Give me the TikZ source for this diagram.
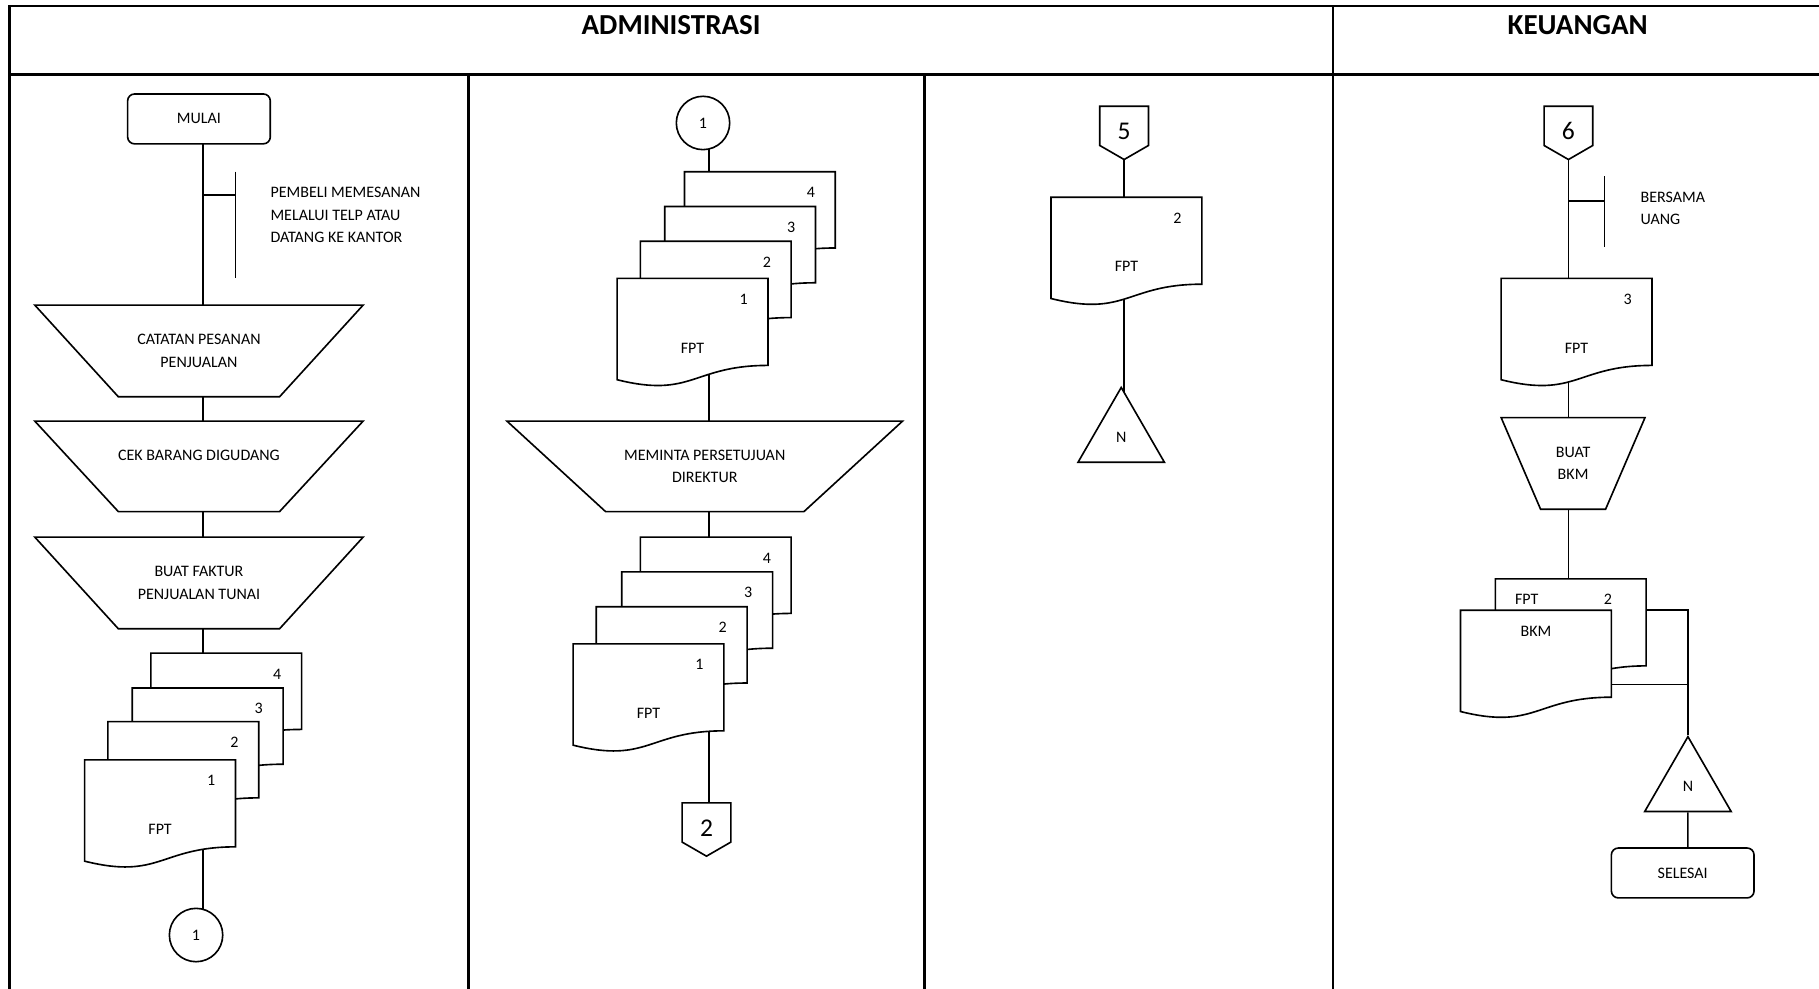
\documentclass[tikz,border=0pt]{standalone}
\usepackage{fontspec}
\setmainfont{Carlito}
\usetikzlibrary{shapes.geometric,shapes.symbols,calc,backgrounds}

\newcommand{\dokumen}[3]{%
  \draw[garis,fill=white] (#1.north west) -- (#1.north east)
    -- ($(#1.north east)!0.802!(#1.south east)$)
    .. controls ($(#1.north)!0.802!(#1.south)$) and ($(#1.north)!1.1075!(#1.south)$)
    .. ($(#1.north west)!0.934!(#1.south west)$) -- cycle;
  \node (#1-no) at ([shift={(-21,18)}]#1.north east) {#2};
  \node (#1-isi) at ([yshift=-60pt]#1.north) {#3};}

\newcommand{\proses}[7]{%
  \draw[garis,fill=white] ({#2-#4/2},{#3-#6/2}) -- ({#2+#4/2},{#3-#6/2})
    -- ({#2+#5/2},{#3+#6/2}) -- ({#2-#5/2},{#3+#6/2}) -- cycle;
  \node[align=center] (#1) at (#2,#3) {#7};}

\begin{document}
\begin{tikzpicture}[x=1pt,y=-1pt,
  font=\fontsize{13.8}{19.5}\selectfont,
  garis/.style={line width=1.4pt},
  bingkai/.style={line width=2.2pt},
  judul/.style={font=\fontsize{25}{30}\selectfont\bfseries},
  terminal/.style={garis,draw,fill=white,rounded corners=6pt,minimum width=123pt,minimum height=43pt},
  dok/.style={minimum width=130pt,minimum height=93.5pt,inner sep=0pt,outer sep=0pt,anchor=north west},
  dokb/.style={dok,minimum height=82pt},
  sambung/.style={garis,draw,fill=white,circle,minimum size=46pt,inner sep=0pt},
  halaman/.style={garis,draw,fill=white,signal,signal to=south,signal pointer angle=120,minimum width=42pt,minimum height=37pt,inner sep=0pt,text height=24pt,text depth=0pt,font=\fontsize{22}{26}\selectfont},
  arsip/.style={garis,draw,fill=white,regular polygon,regular polygon sides=3,minimum size=86pt,inner sep=0pt},
  ket/.style={anchor=west,align=left,inner sep=0pt}]

\useasboundingbox (0,0) rectangle (1568,852);

\draw[bingkai] (1580,5) -- (8,5) -- (8,860);
\draw[bingkai] (8,64) -- (1580,64);
\draw[bingkai] (404,64) -- (404,860);
\draw[bingkai] (797,64) -- (797,860);
\draw[bingkai] (1149,5) -- (1149,860);
\draw (578.5,22) node[judul] (adm) {ADMINISTRASI};
\draw (1360,22) node[judul] (keu) {KEUANGAN};

\coordinate (jalurA) at (175,0);
\coordinate (jalurB) at (611,0);
\coordinate (jalurC) at (969,0);
\coordinate (jalurD) at (1352,0);

\draw (171.5,102.5) node[terminal] (mulai) {MULAI};
\coordinate (ketA0) at (203,168);
\coordinate (ketA1) at (203,148);
\coordinate (ketA2) at (203,240);
\draw[garis] (ketA1) -- (ketA2);
\draw[garis] (ketA0 -| jalurA) -- (ketA0);
\draw (233,185.5) node[ket] (ketA) {PEMBELI MEMESANAN\\MELALUI TELP ATAU\\DATANG KE KANTOR};
\proses{catatan}{171.5}{302.5}{283}{139}{79}{CATATAN PESANAN\\PENJUALAN}
\proses{cek}{171.5}{402}{283}{139}{78}{CEK BARANG DIGUDANG\\~}
\proses{faktur}{171.5}{502.5}{283}{139}{79}{BUAT FAKTUR\\PENJUALAN TUNAI}
\draw (130,563) node[dokb] (fptA4) {}; \dokumen{fptA4}{4}{}
\draw (114,593) node[dokb] (fptA3) {}; \dokumen{fptA3}{3}{}
\draw (93,622) node[dokb] (fptA2) {}; \dokumen{fptA2}{2}{}
\draw (73,655) node[dok] (fptA1) {}; \dokumen{fptA1}{1}{FPT}
\draw (169,806) node[sambung] (satuA) {1};

\draw (606,106) node[sambung] (satuB) {1};
\draw (590,148) node[dokb] (fptB4) {}; \dokumen{fptB4}{4}{}
\draw (573,178) node[dokb] (fptB3) {}; \dokumen{fptB3}{3}{}
\draw (552,208) node[dokb] (fptB2) {}; \dokumen{fptB2}{2}{}
\draw (532,240) node[dok] (fptB1) {}; \dokumen{fptB1}{1}{FPT}
\proses{meminta}{607.5}{402}{341}{171}{78}{MEMINTA PERSETUJUAN\\DIREKTUR}
\draw (552,463) node[dokb] (fptC4) {}; \dokumen{fptC4}{4}{}
\draw (536,493) node[dokb] (fptC3) {}; \dokumen{fptC3}{3}{}
\draw (514,523) node[dokb] (fptC2) {}; \dokumen{fptC2}{2}{}
\draw (494,555) node[dok] (fptC1) {}; \dokumen{fptC1}{1}{FPT}
\draw (609,709) node[halaman] (duaB) {2};

\draw (969,108.5) node[halaman] (limaC) {5};
\draw (906,170) node[dok] (fptD) {}; \dokumen{fptD}{2}{FPT}
\draw (966.5,377) node[arsip] (arsipD) {N};

\draw (1352,108.5) node[halaman] (enamE) {6};
\coordinate (ketE0) at (1383,173);
\coordinate (ketE1) at (1383,152);
\coordinate (ketE2) at (1383,213);
\draw[garis] (ketE1) -- (ketE2);
\draw[garis] (ketE0 -| jalurD) -- (ketE0);
\draw (1414,179.5) node[ket] (ketE) {BERSAMA\\UANG};
\draw (1294,240) node[dok] (fptE) {}; \dokumen{fptE}{3}{FPT}
\proses{buatbkm}{1356}{399.5}{124}{56}{79}{BUAT\\BKM}
\draw (1289,499) node[dok] (fptF) {}; \dokumen{fptF}{}{}
\draw (1316,517) node (fptF-a) {FPT};
\draw (1386,517) node (fptF-b) {2};
\draw (1259,526) node[dok] (bkm) {}; \dokumen{bkm}{}{}
\draw ([yshift=-18pt]bkm.north) node (bkm-a) {BKM};
\coordinate (bkmE) at ([yshift=-64pt]bkm.north east);
\draw (1455,678) node[arsip] (arsipE) {N};
\draw (1450.5,752.5) node[terminal] (selesai) {SELESAI};
\draw[garis] (bkmE) -- (bkmE -| arsipE);

\begin{scope}[on background layer]
\draw[garis] (mulai -| jalurA) -- (catatan -| jalurA);
\draw[garis] (catatan -| jalurA) -- (cek -| jalurA);
\draw[garis] (cek -| jalurA) -- (faktur -| jalurA);
\draw[garis] (faktur -| jalurA) -- (fptA4 -| jalurA);
\draw[garis] (fptA1 -| jalurA) -- (satuA -| jalurA);
\draw[garis] (satuB -| jalurB) -- (fptB4 -| jalurB);
\draw[garis] (fptB1 -| jalurB) -- (meminta -| jalurB);
\draw[garis] (meminta -| jalurB) -- (fptC4 -| jalurB);
\draw[garis] (fptC1 -| jalurB) -- (duaB -| jalurB);
\draw[garis] (limaC -| jalurC) -- (fptD -| jalurC);
\draw[garis] (fptD -| jalurC) -- (arsipD -| jalurC);
\draw[garis] (enamE -| jalurD) -- (fptE -| jalurD);
\draw[garis] (fptE -| jalurD) -- (buatbkm -| jalurD);
\draw[garis] (buatbkm -| jalurD) -- (fptF -| jalurD);
\draw[garis] (bkm.north -| fptF) -| (arsipE);
\draw[garis] (arsipE) -- (arsipE |- selesai);
\end{scope}
\end{tikzpicture}
\end{document}
